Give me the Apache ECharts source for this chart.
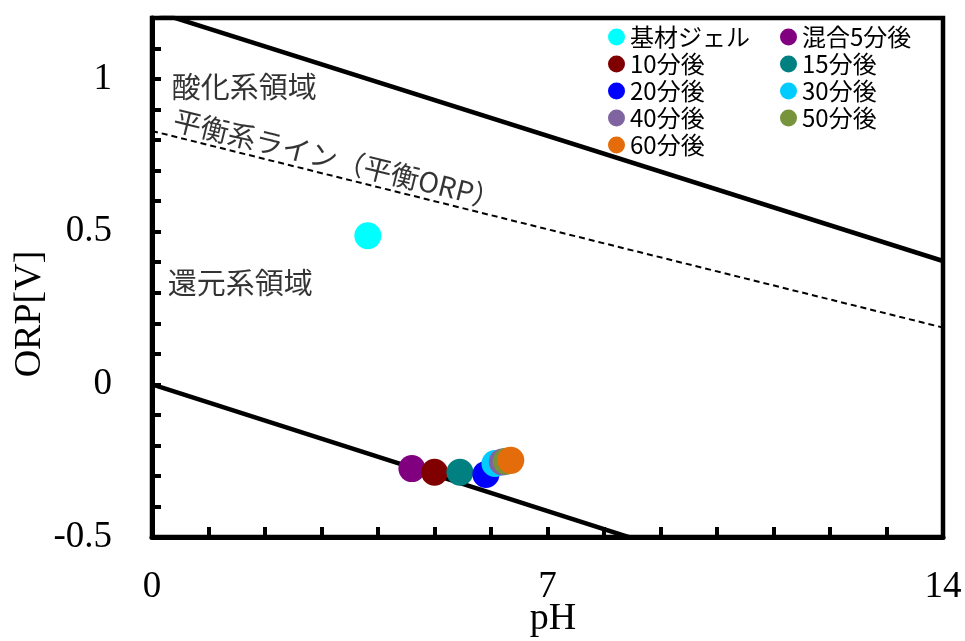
<!DOCTYPE html>
<html>
<head>
<meta charset="utf-8">
<script src="https://cdn.jsdelivr.net/npm/echarts@6/dist/echarts.min.js"></script>
<style>html,body{margin:0;padding:0;background:#fff}#c{width:965px;height:641px}</style>
</head>
<body>
<div id="c"></div>
<script>
const categories = ['基材ジェル','混合5分後','10分後','15分後','20分後','30分後','40分後','50分後','60分後'];
const phValues  = [3.82, 4.60, 5.00, 5.45, 5.91, 6.07, 6.20, 6.27, 6.35];
const orpValues = [0.487, -0.276, -0.288, -0.288, -0.295, -0.259, -0.254, -0.252, -0.249];
const colors = ['#00FFFF','#800080','#800000','#008080','#0000FF','#00CCFF','#8064A2','#77933C','#E46C0A'];
const upperLine = [[0, 1.224], [14, 0.404]];
const lowerLine = [[0, 0], [14, -0.83]];
const equilibriumLine = [[0, 0.83], [14, 0.186]];
const xTickLabels = [0, 7, 14];
const yTickLabels = [-0.5, 0, 0.5, 1];
const annotations = [
  {text: '酸化系領域', x: 0.35, y: 0.974, rotate: 0},
  {text: '還元系領域', x: 0.28, y: 0.333, rotate: 0},
  {text: '平衡系ライン（平衡ORP）', x: 3.28, y: 0.737, rotate: -13.85}
];
const legendCol1 = [categories[0], categories[2], categories[4], categories[6], categories[8]];
const legendCol2 = [categories[1], categories[3], categories[5], categories[7]];

const serif = '"Liberation Serif", "Times New Roman", serif';
const cjk = '"Noto Sans CJK JP", "Noto Sans", sans-serif';

const chart = echarts.init(document.getElementById('c'), null, {renderer: 'canvas'});

const series = [];
[upperLine, lowerLine].forEach(function (d) {
  series.push({type: 'line', data: d, showSymbol: false, symbol: 'none', clip: true, silent: true, z: 2,
    lineStyle: {color: '#000', width: 4.5, type: 'solid'}});
});
series.push({type: 'line', data: equilibriumLine, showSymbol: false, symbol: 'none', clip: true, silent: true, z: 2,
  lineStyle: {color: '#000', width: 2, type: [6, 4]}});
categories.forEach(function (name, i) {
  series.push({type: 'scatter', name: name, data: [[phValues[i], orpValues[i]]], symbol: 'circle', symbolSize: 27,
    itemStyle: {color: colors[i], opacity: 1}, z: 3 + i});
});
series.push({type: 'scatter', silent: true, symbolSize: 0, z: 20,
  data: annotations.map(function (a) {
    return {value: [a.x, a.y], label: {show: true, position: 'inside', formatter: a.text, rotate: a.rotate,
      align: a.rotate ? 'center' : 'left', verticalAlign: 'middle',
      fontFamily: cjk, fontSize: a.rotate ? 28 : 29, color: '#000'}};
  })
});

const legendCommon = {orient: 'vertical', icon: 'circle', itemWidth: 17, itemHeight: 17, itemGap: 3,
  textStyle: {fontFamily: cjk, fontSize: 24, color: '#000'}, selectedMode: false};

chart.setOption({
  animation: false,
  backgroundColor: '#fff',
  grid: {left: 152, right: 22, top: 18, bottom: 104, show: true, borderColor: '#000', borderWidth: 4.5,
    containLabel: false, outerBoundsMode: 'none'},
  legend: [
    Object.assign({data: legendCol1, left: 603, top: 20}, legendCommon),
    Object.assign({data: legendCol2, left: 775, top: 20}, legendCommon)
  ],
  xAxis: {
    type: 'value', min: 0, max: 14, interval: 1,
    axisLine: {show: true, onZero: false, lineStyle: {color: '#000', width: 5}},
    axisTick: {show: true, inside: true, length: 10, lineStyle: {color: '#000', width: 4}},
    axisLabel: {show: true, margin: 32, fontFamily: serif, fontSize: 37, color: '#000',
      formatter: function (v) { return xTickLabels.indexOf(Math.round(v)) >= 0 && Math.abs(v - Math.round(v)) < 1e-6 ? String(Math.round(v)) : ''; }},
    splitLine: {show: false}
  },
  yAxis: {
    type: 'value', min: -0.5, max: 1.2, interval: 0.1,
    axisLine: {show: true, onZero: false, lineStyle: {color: '#000', width: 5}},
    axisTick: {show: true, inside: true, length: 9, lineStyle: {color: '#000', width: 4}},
    axisLabel: {show: true, margin: 40, fontFamily: serif, fontSize: 37, color: '#000',
      formatter: function (v) {
        const r = Math.round(v * 10) / 10;
        for (let i = 0; i < yTickLabels.length; i++) { if (Math.abs(yTickLabels[i] - r) < 1e-6) return String(yTickLabels[i]); }
        return '';
      }},
    splitLine: {show: false}
  },
  graphic: [{
    type: 'text', x: 30, y: 314, rotation: Math.PI / 2,
    style: {text: 'ORP[V]', fontFamily: serif, fontSize: 38, fill: '#000', textAlign: 'center', textVerticalAlign: 'middle'}
  }, {
    type: 'text', x: 553, y: 619,
    style: {text: 'pH', fontFamily: serif, fontSize: 38, fill: '#000', textAlign: 'center', textVerticalAlign: 'middle'}
  }],
  series: series
});
</script>
</body>
</html>
